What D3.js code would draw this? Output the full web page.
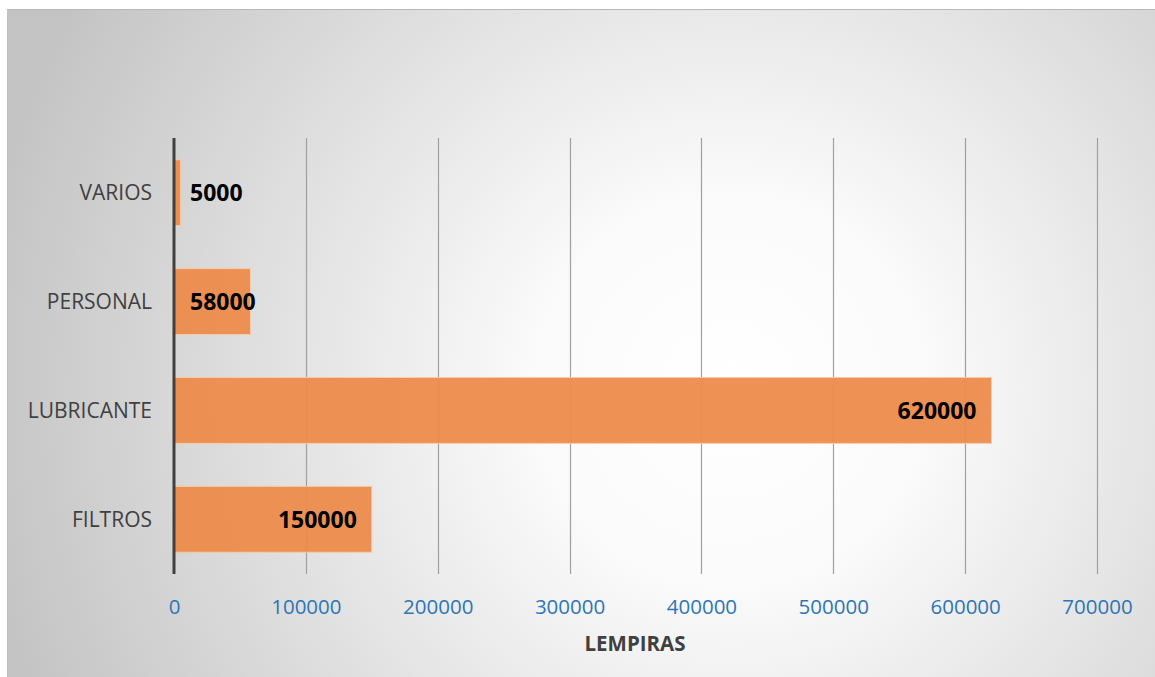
<!DOCTYPE html>
<html><head><meta charset="utf-8">
<script src="https://cdn.jsdelivr.net/npm/d3@7/dist/d3.min.js"></script>
<style>html,body{margin:0;padding:0;background:#fff;}svg{display:block;}</style>
</head><body>
<script>
const categories = ["FILTROS", "LUBRICANTE", "PERSONAL", "VARIOS"];
const values = [150000, 620000, 58000, 5000];
const xTicks = [0, 100000, 200000, 300000, 400000, 500000, 600000, 700000];
const axisTitle = "LEMPIRAS";

const W = 1155, H = 677;
const svg = d3.select("body").append("svg").attr("width", W).attr("height", H);
const defs = svg.append("defs");
const grad = defs.append("radialGradient").attr("id", "bg")
  .attr("gradientUnits", "userSpaceOnUse")
  .attr("cx", 730).attr("cy", 390).attr("r", 760);
grad.append("stop").attr("offset", "0").attr("stop-color", "#ffffff");
grad.append("stop").attr("offset", "0.25").attr("stop-color", "#fbfbfb");
grad.append("stop").attr("offset", "1").attr("stop-color", "#c4c4c4");

svg.append("rect").attr("x", 7).attr("y", 9).attr("width", W - 7).attr("height", H - 9)
  .attr("fill", "url(#bg)");
svg.append("line").attr("x1", 7).attr("x2", W).attr("y1", 9.5).attr("y2", 9.5)
  .attr("stroke", "#b8b8b8").attr("stroke-width", 1);
svg.append("line").attr("x1", 7.5).attr("x2", 7.5).attr("y1", 9).attr("y2", H)
  .attr("stroke", "#c0c0c0").attr("stroke-width", 1);

const x0 = 174, x1 = 1097, yTop = 138, yBot = 574;
const x = d3.scaleLinear().domain([0, 700000]).range([x0, x1]);
const y = d3.scaleBand().domain(categories.slice().reverse()).range([yTop, yBot]).paddingInner(0.395).paddingOuter(0.2);

// gridlines
svg.append("g").selectAll("line").data(xTicks.slice(1)).join("line")
  .attr("x1", d => Math.round(x(d)) + 0.5).attr("x2", d => Math.round(x(d)) + 0.5)
  .attr("y1", yTop).attr("y2", yBot)
  .attr("stroke", "#a0a0a0").attr("stroke-width", 1.2);

// bars
svg.append("g").selectAll("rect").data(categories).join("rect")
  .attr("x", x(0)).attr("y", d => y(d))
  .attr("width", (d, i) => x(values[i]) - x(0))
  .attr("height", y.bandwidth())
  .attr("fill", "#ED8B4C").attr("fill-opacity", 0.95)
  .attr("stroke", "#f7c9a8").attr("stroke-width", 1);

// axis line
svg.append("line").attr("x1", x0).attr("x2", x0).attr("y1", yTop).attr("y2", yBot)
  .attr("stroke", "#404040").attr("stroke-width", 3);

// x tick labels
const xAxis = d3.axisBottom(x).tickValues(xTicks).tickFormat(d => String(d)).tickSize(0).tickPadding(0);
const gx = svg.append("g").attr("transform", `translate(0,${yBot + 8})`).call(xAxis);
gx.select(".domain").remove();
gx.selectAll("text").attr("fill", "#2E75B6").attr("font-family", "Open Sans")
  .attr("font-size", 20.5).attr("dy", "0").attr("y", 32);

// category labels
const yAxis = d3.axisLeft(y).tickSize(0).tickPadding(22);
const gy = svg.append("g").attr("transform", `translate(${x0},0)`).call(yAxis);
gy.select(".domain").remove();
gy.selectAll("text").attr("fill", "#404040").attr("font-family", "Open Sans")
  .attr("font-size", 21).attr("dy", "0.36em");

// data labels
const lbl = svg.append("g").selectAll("text").data(categories).join("text")
  .attr("font-family", "Open Sans").attr("font-weight", "bold").attr("font-size", 23)
  .attr("fill", "#000").attr("dy", "0.36em")
  .attr("y", d => y(d) + y.bandwidth() / 2)
  .text((d, i) => values[i]);
lbl.each(function(d, i) {
  const w = this.getComputedTextLength();
  let right = x(values[i]) - 15;
  let left = right - w;
  if (left < x0 + 16) left = x0 + 16;
  d3.select(this).attr("x", left);
});

// axis title
svg.append("text").attr("x", 635).attr("y", 644).attr("dy", "0.36em")
  .attr("text-anchor", "middle").attr("font-family", "Open Sans").attr("font-weight", "bold")
  .attr("font-size", 20.5).attr("fill", "#404040").text(axisTitle);
</script>
</body></html>
